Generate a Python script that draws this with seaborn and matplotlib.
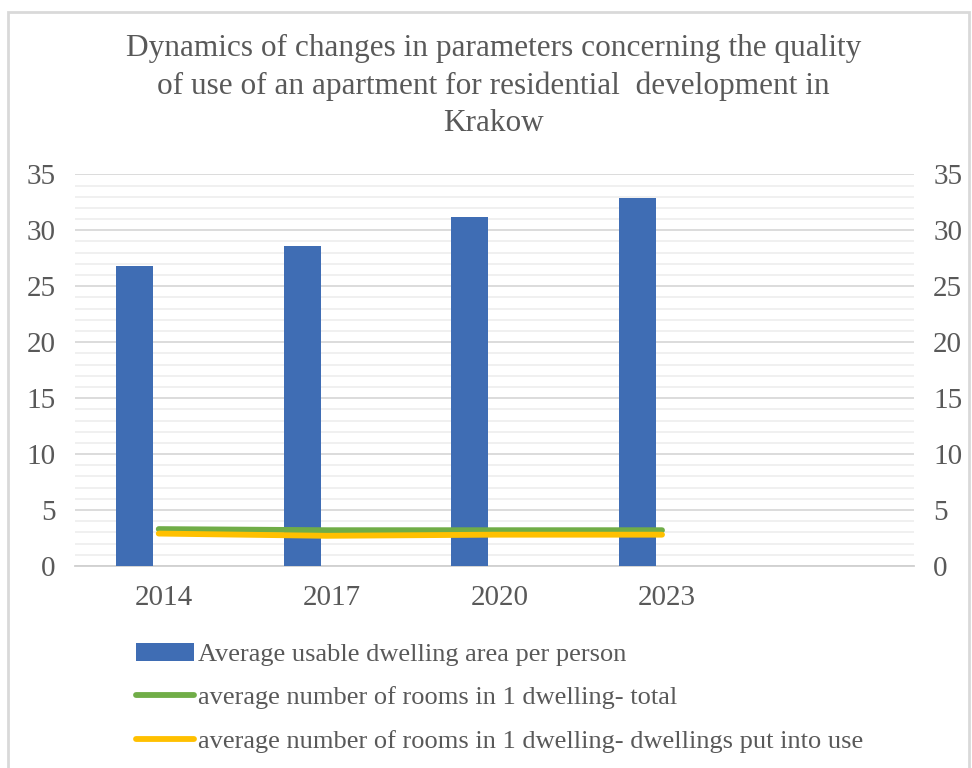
import matplotlib
matplotlib.use("Agg")
import matplotlib.pyplot as plt
import matplotlib.transforms as mtransforms
import seaborn as sns
import pandas as pd
from matplotlib.patches import Rectangle
from matplotlib.lines import Line2D
from matplotlib.ticker import MultipleLocator

years = ["2014", "2017", "2020", "2023"]
axis_categories = ["2014", "2017", "2020", "2023", " "]
area_per_person = [26.8, 28.6, 31.2, 32.9]
rooms_total = [3.3, 3.2, 3.2, 3.2]
rooms_new = [2.9, 2.7, 2.8, 2.8]
series_names = ["Average usable dwelling area per person",
                "average number of rooms in 1 dwelling- total",
                "average number of rooms in 1 dwelling- dwellings put into use"]
title = ("Dynamics of changes in parameters concerning the quality\n"
         "of use of an apartment for residential  development in\nKrakow")

BLUE = "#3F6DB4"
GREEN = "#70AD47"
ORANGE = "#FFC000"
TXT = "#595959"

sns.set_theme(style="white")
plt.rcParams["font.family"] = ["Liberation Serif", "DejaVu Serif"]

fig = plt.figure(figsize=(9.72, 7.68), dpi=100)
ax = fig.add_axes([0.077, 0.263, 0.863, 0.51])

df_bar = pd.DataFrame({"year": years, "value": area_per_person})
sns.barplot(data=df_bar, x="year", y="value", order=axis_categories,
            color=BLUE, saturation=1, width=0.22, ax=ax, zorder=3)
for p in ax.patches:
    p.set_x(p.get_x() - 0.145)
    p.set_edgecolor("none")

pos = [axis_categories.index(y) for y in years]
df_lines = pd.DataFrame({"pos": pos * 2,
                         "value": rooms_total + rooms_new,
                         "series": [series_names[1]] * 4 + [series_names[2]] * 4})
sns.lineplot(data=df_lines, x="pos", y="value", hue="series",
             palette=[GREEN, ORANGE], linewidth=4.2, ax=ax, legend=False,
             zorder=4, solid_capstyle="round")

ax.set_xlim(-0.5, len(axis_categories) - 0.5)
ax.set_xticks(range(len(axis_categories)))
ax.set_xticklabels(axis_categories)
ax.set_ylim(0, 35)
ax.yaxis.set_major_locator(MultipleLocator(5))
ax.yaxis.set_minor_locator(MultipleLocator(1))
ax.grid(which="major", axis="y", color="#d9d9d9", linewidth=1.3, zorder=0)
ax.grid(which="minor", axis="y", color="#efefef", linewidth=1.3, zorder=0)
ax.set_axisbelow(True)
ax.set_xlabel("")
ax.set_ylabel("")
for s in ["top", "left", "right"]:
    ax.spines[s].set_visible(False)
ax.spines["bottom"].set_color("#d0d0d0")
ax.spines["bottom"].set_linewidth(1.3)
ax.tick_params(axis="both", which="both", length=0, colors=TXT, labelsize=21)
ax.tick_params(axis="y", labelright=True, pad=14)
ax.tick_params(axis="x", pad=14)
shift = mtransforms.ScaledTranslation(5 / 100, 0, fig.dpi_scale_trans)
for lab in ax.get_xticklabels():
    lab.set_transform(lab.get_transform() + shift)

fig.text(0.508, 0.956, title, ha="center", va="top", fontsize=22.5,
         color=TXT, linespacing=1.38)

handles = [Rectangle((0, 0), 1, 1, facecolor=BLUE, edgecolor="none"),
           Line2D([], [], color=GREEN, linewidth=4.2),
           Line2D([], [], color=ORANGE, linewidth=4.2)]
leg = fig.legend(handles, series_names, loc="upper left",
                 bbox_to_anchor=(0.115, 0.194), frameon=False, fontsize=19,
                 handlelength=2.2, handletextpad=0.15, labelspacing=0.75,
                 labelcolor=TXT)

fig.patches.append(Rectangle((8 / 972, -0.05), 961 / 972, 1.05 - 12 / 768,
                             transform=fig.transFigure, fill=False,
                             edgecolor="#d9d9d9", linewidth=2))

fig.savefig("out.png", dpi=100, facecolor="white")
